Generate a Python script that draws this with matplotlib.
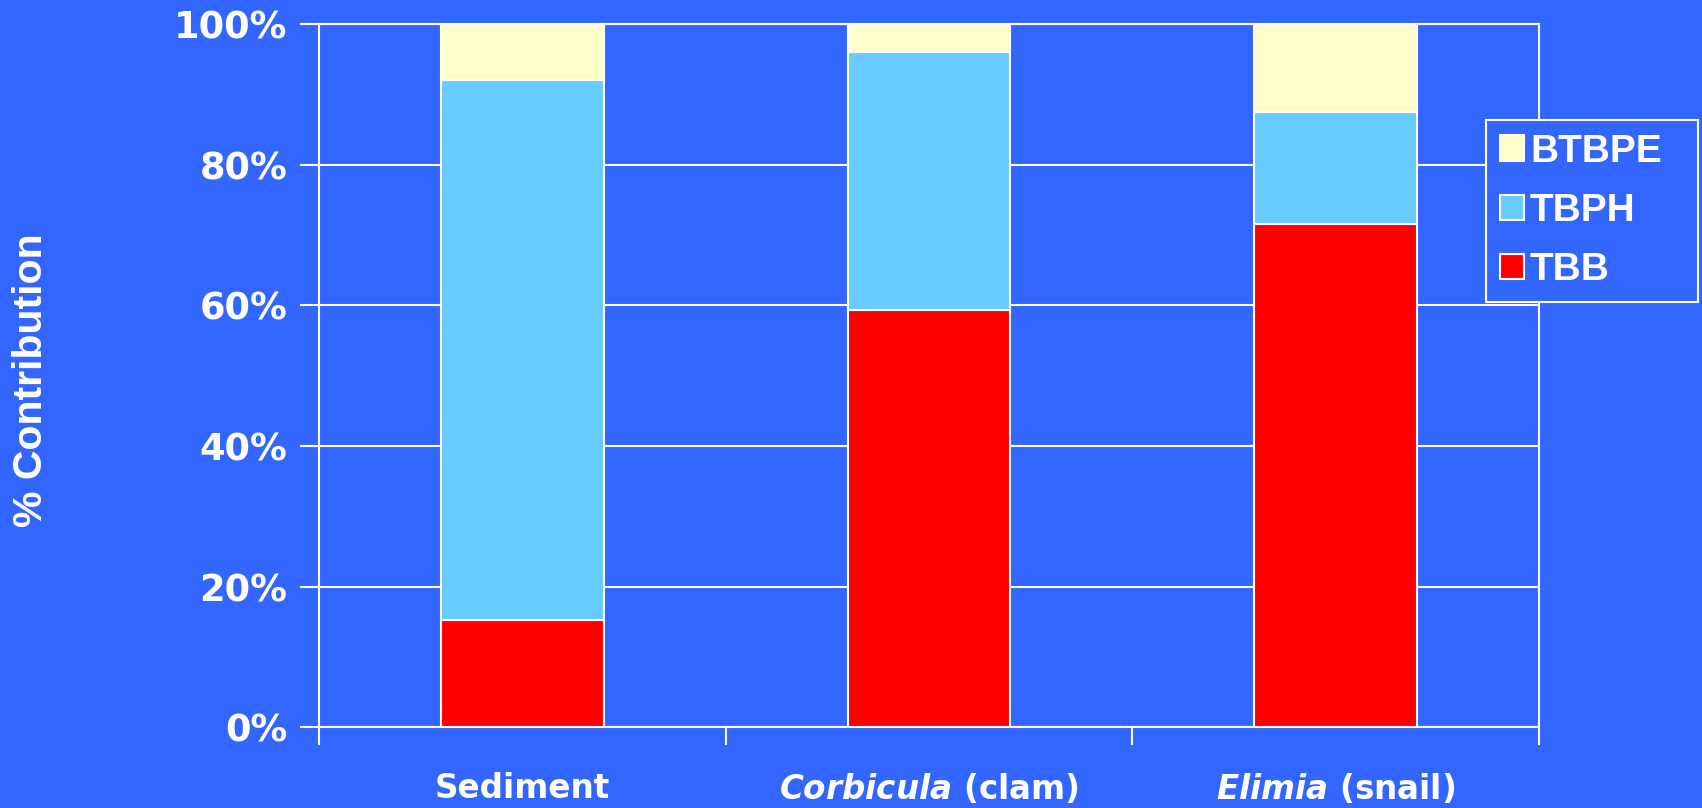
import matplotlib
matplotlib.use("Agg")
import matplotlib.pyplot as plt
import numpy as np

# composição percentual por matriz
categorias = ["Sediment", r"$\mathit{Corbicula}$ (clam)", r"$\mathit{Elimia}$ (snail)"]
tbb = [15.3, 59.4, 71.6]
tbph = [76.8, 36.6, 15.9]
btbpe = [7.9, 4.0, 12.5]

azul = "#3366FF"
plt.rcParams["mathtext.fontset"] = "custom"
plt.rcParams["mathtext.it"] = "DejaVu Sans:italic:bold"
plt.rcParams["mathtext.rm"] = "DejaVu Sans:bold"

fig = plt.figure(figsize=(17.02, 8.08), dpi=100, facecolor=azul)
ax = fig.add_axes([0.1874, 0.100, 0.7168, 0.870], facecolor=azul)

x = np.arange(len(categorias))
w = 0.4
ax.bar(x, tbb, w, color="#FF0000", edgecolor="white", linewidth=1.5, label="TBB", zorder=3)
ax.bar(x, tbph, w, bottom=tbb, color="#66CCFF", edgecolor="white", linewidth=1.5, label="TBPH", zorder=3)
base = np.array(tbb) + np.array(tbph)
ax.bar(x, btbpe, w, bottom=base, color="#FFFFCC", edgecolor="white", linewidth=1.5, label="BTBPE", zorder=3)

ax.set_xlim(-0.5, 2.5)
ax.set_ylim(0, 100)
ax.set_yticks(np.arange(0, 101, 20))
ax.set_yticklabels(["{}%".format(v) for v in range(0, 101, 20)],
                   fontsize=26.5, fontweight="bold", color="white")
ax.yaxis.grid(True, color="white", linewidth=1.5, zorder=0)
ax.tick_params(axis="y", length=14, width=1.5, color="white", pad=9)

ax.set_xticks(x)
ax.set_xticklabels(categorias, fontsize=23.5, fontweight="bold", color="white")
ax.tick_params(axis="x", which="major", length=0, pad=32)
ax.set_xticks([-0.5, 0.5, 1.5, 2.5], minor=True)
ax.tick_params(axis="x", which="minor", length=13, width=1.5, color="white")

for s in ax.spines.values():
    s.set_color("white")
    s.set_linewidth(1.5)

fig.text(0.018, 0.530, "% Contribution", rotation=90, va="center", ha="center",
         fontsize=29.5, fontweight="bold", color="white", family="Liberation Sans")

h, l = ax.get_legend_handles_labels()
leg = fig.legend(h[::-1], l[::-1], loc="upper left", mode="expand",
                 bbox_to_anchor=(1486 / 1702, 1 - 300 / 808, 212 / 1702, 180 / 808),
                 borderaxespad=0,
                 prop={"family": "Liberation Sans", "weight": "bold", "size": 28},
                 handlelength=0.62, handleheight=0.62, handletextpad=0.16,
                 labelspacing=0.6, borderpad=0.35, fancybox=False,
                 facecolor=azul, edgecolor="white", framealpha=1, labelcolor="white")
leg.get_frame().set_linewidth(1.5)

fig.savefig("out.png", dpi=100, facecolor=azul)
